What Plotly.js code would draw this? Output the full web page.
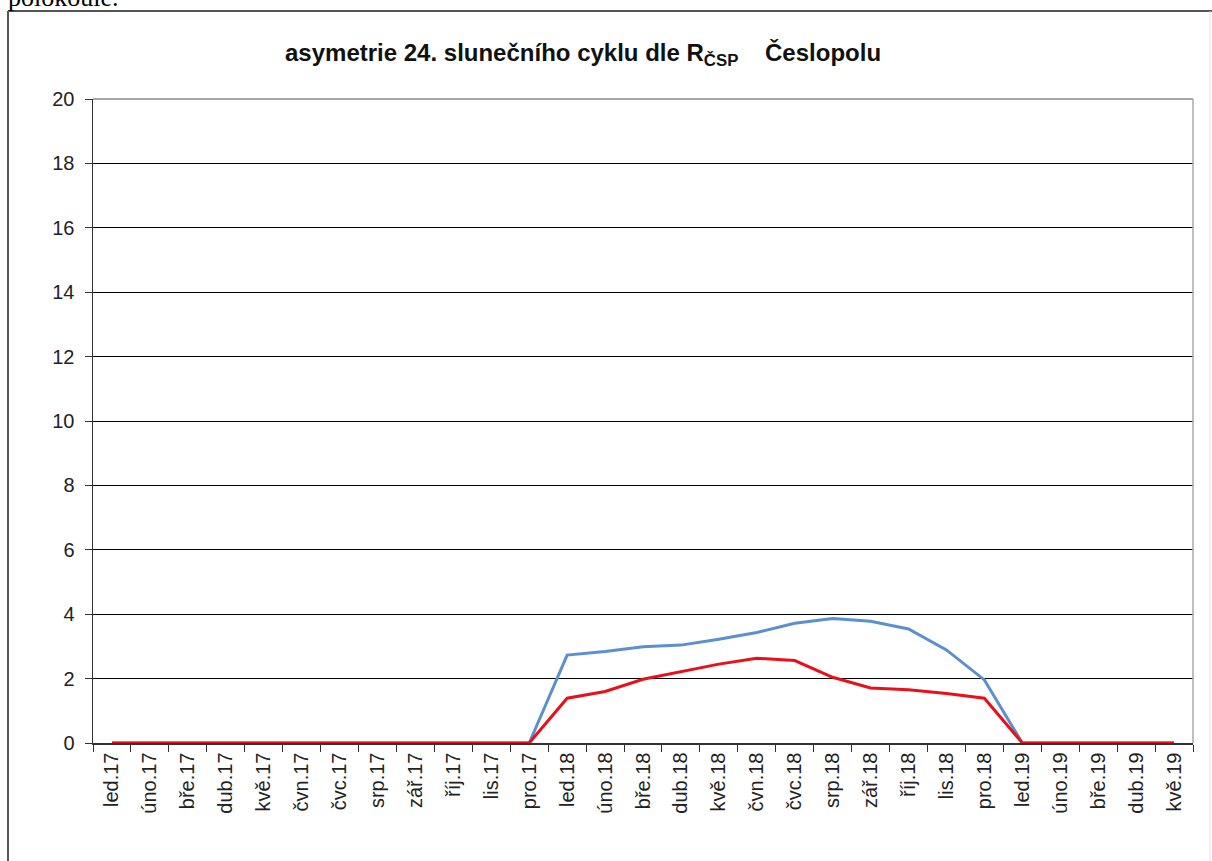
<!DOCTYPE html>
<html>
<head>
<meta charset="utf-8">
<script src="https://cdn.plot.ly/plotly-3.0.1.min.js"></script>
<style>html,body{margin:0;padding:0;background:#fff;}#chart{width:1212px;height:861px;}</style>
</head>
<body>
<div id="chart"></div>
<script>
var months = ["led.17","úno.17","bře.17","dub.17","kvě.17","čvn.17","čvc.17","srp.17","zář.17","říj.17","lis.17","pro.17",
  "led.18","úno.18","bře.18","dub.18","kvě.18","čvn.18","čvc.18","srp.18","zář.18","říj.18","lis.18","pro.18",
  "led.19","úno.19","bře.19","dub.19","kvě.19"];
var blueValues = [0,0,0,0,0,0,0,0,0,0,0,0,
  2.73,2.84,2.99,3.04,3.22,3.43,3.72,3.87,3.78,3.54,2.89,1.96,
  0,0,0,0,0];
var redValues = [0,0,0,0,0,0,0,0,0,0,0,0,
  1.39,1.60,1.98,2.21,2.45,2.63,2.56,2.04,1.71,1.65,1.54,1.39,
  0,0,0,0,0];
var yTicks = [0,2,4,6,8,10,12,14,16,18,20];

var traces = [
  {x: months, y: blueValues, type: "scatter", mode: "lines", line: {color: "#5B8FD0", width: 3}, hoverinfo: "none"},
  {x: months, y: redValues, type: "scatter", mode: "lines", line: {color: "#E8111B", width: 3}, hoverinfo: "none"}
];

var W = 1100, H = 644;
function px(x) { return (x - 93) / W; }
function py(y) { return (743 - y) / H; }

var layout = {
  width: 1212, height: 861,
  margin: {l: 93, r: 19, t: 99, b: 118},
  paper_bgcolor: "#ffffff", plot_bgcolor: "#ffffff",
  showlegend: false,
  font: {family: "Liberation Sans, Arial, sans-serif", color: "#222"},
  xaxis: {
    type: "category", tickvals: months, ticktext: months,
    tickangle: -90, tickfont: {size: 20, color: "#222"},
    ticks: "outside", tickson: "boundaries", ticklen: 7, tickcolor: "#333",
    showline: true, linecolor: "#333", linewidth: 1.5,
    showgrid: false, zeroline: false, range: [-0.5, 28.5], fixedrange: true
  },
  yaxis: {
    range: [0, 20], tickvals: yTicks, ticktext: yTicks.map(String),
    tickfont: {size: 20, color: "#222"}, ticklabelstandoff: 6,
    ticks: "outside", ticklen: 7, tickcolor: "#333",
    showline: true, linecolor: "#333", linewidth: 1.5,
    showgrid: true, gridcolor: "#000", gridwidth: 1, zeroline: false, fixedrange: true
  },
  shapes: [
    {type: "line", xref: "paper", yref: "paper", x0: 0, x1: 1, y0: 1, y1: 1, line: {color: "#888", width: 1.5}},
    {type: "line", xref: "paper", yref: "paper", x0: 1, x1: 1, y0: 0, y1: 1, line: {color: "#aaa", width: 1.5}},
    {type: "line", xref: "paper", yref: "paper", x0: px(8), x1: px(1212), y0: py(11), y1: py(11), line: {color: "#555", width: 2}},
    {type: "line", xref: "paper", yref: "paper", x0: px(8), x1: px(8), y0: py(11), y1: py(861), line: {color: "#555", width: 2}},
    {type: "line", xref: "paper", yref: "paper", x0: px(1210), x1: px(1210), y0: py(11), y1: py(861), line: {color: "#e4e4e4", width: 1}}
  ],
  annotations: [
    {xref: "paper", yref: "paper", x: px(583), y: py(54), xanchor: "center", yanchor: "middle",
     showarrow: false, text: "<b>asymetrie 24. slunečního cyklu dle R<sub>ČSP</sub>    Česlopolu</b>",
     font: {size: 24, color: "#111", family: "Liberation Sans, Arial, sans-serif"}},
    {xref: "paper", yref: "paper", x: px(6), y: py(14), xanchor: "left", yanchor: "bottom",
     showarrow: false, text: "polokoule.", font: {size: 26, color: "#000", family: "Liberation Serif, Times New Roman, serif"}}
  ]
};

Plotly.newPlot("chart", traces, layout, {staticPlot: true});
</script>
</body>
</html>
